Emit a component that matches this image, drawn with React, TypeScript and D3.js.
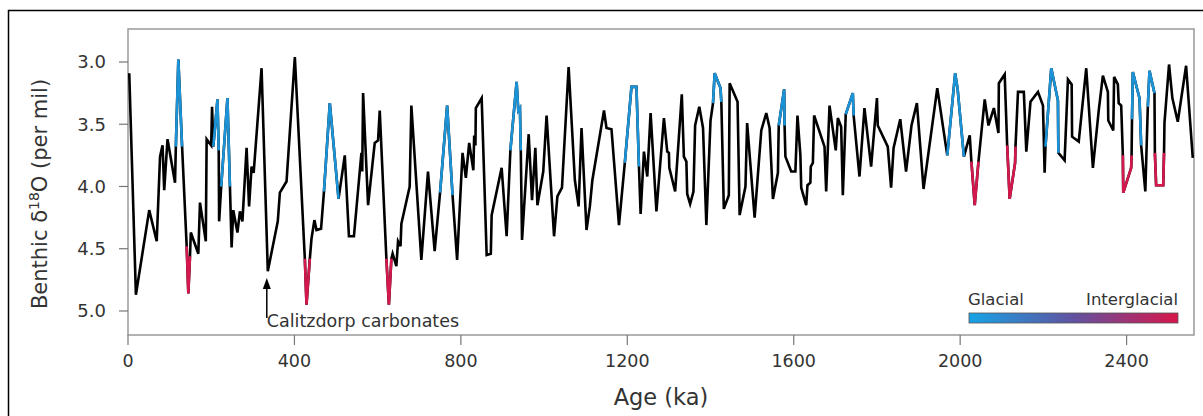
import React from "react";
import * as d3 from "d3";

// Age (ka) and benthic d18O (per mil)
const ages: number[] = [
  3, 19, 51, 69, 77, 83, 87, 95, 113, 115, 121, 130, 141, 145, 149, 151, 169, 173, 187, 189,
  200, 202, 205, 215, 218, 219, 224, 239, 245, 249, 253, 263, 269, 275, 285, 291, 297, 302, 321, 336,
  360, 365, 381, 401, 425, 429, 437, 441, 448, 453, 464, 471, 485, 506, 521, 531, 543, 561, 563, 565,
  577, 593, 601, 605, 621, 627, 633, 636, 645, 649, 655, 657, 677, 681, 705, 721, 737, 750, 767, 780,
  791, 804, 812, 820, 830, 832, 835, 836, 850, 862, 872, 874, 898, 910, 919, 934, 938, 942, 944, 947,
  963, 971, 979, 984, 998, 1006, 1024, 1032, 1043, 1059, 1074, 1083, 1090, 1102, 1110, 1116, 1144, 1150, 1162, 1180,
  1194, 1210, 1222, 1228, 1232, 1240, 1248, 1256, 1270, 1288, 1296, 1300, 1301, 1315, 1331, 1336, 1342, 1344, 1351, 1359,
  1363, 1373, 1382, 1390, 1400, 1406, 1410, 1424, 1426, 1432, 1444, 1446, 1465, 1470, 1484, 1488, 1506, 1522, 1534, 1542,
  1550, 1562, 1564, 1577, 1578, 1580, 1594, 1604, 1609, 1616, 1618, 1630, 1633, 1640, 1641, 1646, 1649, 1674, 1678, 1686,
  1701, 1706, 1714, 1718, 1725, 1742, 1744, 1758, 1770, 1786, 1800, 1802, 1826, 1834, 1840, 1856, 1870, 1883, 1896, 1912,
  1945, 1969, 1988, 1994, 2009, 2023, 2027, 2035, 2044, 2059, 2068, 2081, 2092, 2093, 2107, 2113, 2119, 2132, 2133, 2139,
  2153, 2159, 2169, 2187, 2199, 2203, 2205, 2219, 2235, 2236, 2251, 2259, 2268, 2269, 2285, 2303, 2319, 2333, 2343, 2355,
  2356, 2368, 2370, 2379, 2381, 2387, 2391, 2392, 2411, 2412, 2413, 2415, 2431, 2435, 2445, 2451, 2455, 2467, 2468, 2471,
  2488, 2490, 2491, 2502, 2510, 2523, 2543, 2559,
];
const d18O: number[] = [
  3.09, 4.87, 4.19, 4.44, 3.76, 3.67, 4.03, 3.62, 3.97, 3.68, 2.98, 3.68, 4.48, 4.86, 4.56, 4.37, 4.54, 4.13, 4.44, 3.62,
  3.67, 3.36, 3.68, 3.30, 3.71, 4.28, 4.00, 3.29, 4.00, 4.49, 4.19, 4.37, 4.20, 4.28, 3.69, 4.16, 3.84, 3.89, 3.05, 4.68,
  4.28, 4.05, 3.96, 2.96, 4.58, 4.95, 4.58, 4.42, 4.27, 4.35, 4.34, 4.04, 3.33, 4.10, 3.75, 4.40, 4.40, 3.73, 3.88, 3.25,
  4.15, 3.65, 3.63, 3.39, 4.58, 4.95, 4.58, 4.54, 4.64, 4.44, 4.48, 4.30, 4.00, 3.35, 4.59, 3.88, 4.52, 4.05, 3.35, 4.07,
  4.59, 3.73, 3.93, 3.65, 3.87, 3.59, 3.67, 3.37, 3.29, 4.55, 4.54, 4.23, 3.85, 4.40, 3.71, 3.16, 3.39, 3.37, 3.71, 4.43,
  3.58, 4.11, 3.69, 4.15, 3.88, 3.43, 4.40, 4.08, 4.01, 3.04, 3.95, 4.16, 3.53, 4.35, 4.16, 3.95, 3.39, 3.53, 3.54, 4.31,
  3.81, 3.20, 3.20, 3.84, 4.22, 3.72, 3.92, 3.41, 4.20, 3.45, 3.72, 3.73, 3.85, 4.04, 3.26, 3.76, 3.80, 4.06, 4.14, 4.04,
  3.51, 3.36, 3.53, 4.31, 3.47, 3.33, 3.09, 3.21, 3.32, 4.18, 4.07, 3.17, 3.32, 4.23, 4.00, 3.49, 4.25, 3.55, 3.41, 3.53,
  4.10, 3.89, 3.51, 3.22, 3.51, 3.76, 3.88, 3.88, 3.43, 3.75, 4.01, 4.15, 3.99, 3.97, 3.84, 3.81, 3.43, 3.68, 4.04, 3.35,
  3.71, 3.45, 3.52, 4.07, 3.42, 3.25, 3.43, 3.92, 3.37, 3.84, 3.29, 3.51, 3.68, 4.01, 3.69, 3.46, 3.88, 3.51, 3.33, 4.02,
  3.21, 3.75, 3.09, 3.22, 3.76, 3.59, 3.80, 4.15, 3.80, 3.30, 3.51, 3.37, 3.57, 3.17, 3.10, 3.67, 4.10, 3.81, 3.68, 3.24,
  3.24, 3.72, 3.32, 3.24, 3.35, 3.89, 3.68, 3.05, 3.31, 3.73, 3.79, 3.14, 3.18, 3.60, 3.64, 3.05, 3.85, 3.39, 3.11, 3.24,
  3.47, 3.55, 3.12, 3.18, 3.33, 3.35, 3.75, 4.05, 3.85, 3.75, 3.46, 3.08, 3.29, 3.67, 4.04, 3.36, 3.07, 3.25, 3.73, 3.99,
  3.99, 3.73, 3.49, 3.02, 3.29, 3.48, 3.03, 3.77,
];

// Age ranges drawn in glacial (blue) and interglacial (red) colours
const glacialRanges: [number, number][] = [
  [115, 130], [205, 218], [224, 245], [471, 506], [750, 780], [919, 944], [1194, 1228],
  [1406, 1426], [1564, 1578], [1725, 1744], [1969, 2009], [2205, 2236], [2413, 2435], [2451, 2467],
];
const interglacialRanges: [number, number][] = [
  [141, 149], [425, 437], [621, 633], [2027, 2044], [2113, 2133], [2391, 2412], [2468, 2490],
];

const xTicks = [0, 400, 800, 1200, 1600, 2000, 2400];
const yTicks = [3.0, 3.5, 4.0, 4.5, 5.0];

const GLACIAL = "#1b93d6";
const INTERGLACIAL = "#d4184d";
const FONT = "'DejaVu Sans', Verdana, sans-serif";
const TEXT = "#333";

export default function App() {
  const W = 1203, H = 416;
  const L = 128, R = 1194, T = 29, B = 335;
  const x = d3.scaleLinear().domain([0, 2562]).range([L, R]);
  const y = d3.scaleLinear().domain([2.735, 5.193]).range([T, B]);
  const pts = ages.map((a, i) => ({ a, v: d18O[i] }));
  const line = d3.line<{ a: number; v: number }>().x((d) => x(d.a)).y((d) => y(d.v));
  const seg = (r: [number, number]) => line(pts.filter((p) => p.a >= r[0] && p.a <= r[1])) || "";

  const arrowAge = 336;
  const ax = x(arrowAge) - 1;

  return (
    <svg width={W} height={H} style={{ position: "absolute", left: 0, top: 0, background: "#fff" }}>
      <defs>
        <linearGradient id="gi" x1="0" x2="1" y1="0" y2="0">
          <stop offset="0" stopColor="#17a3e6" />
          <stop offset="0.5" stopColor="#6152a0" />
          <stop offset="1" stopColor="#d8164a" />
        </linearGradient>
      </defs>
      <rect x={8.5} y={10.5} width={1210} height={420} fill="none" stroke="#000" strokeWidth={1.5} />
      {/* plot frame */}
      <rect x={L} y={T} width={R - L} height={B - T} fill="none" stroke="#999" strokeWidth={1.5} />
      {/* y axis */}
      {yTicks.map((t) => (
        <g key={t}>
          <line x1={L - 9} x2={L} y1={y(t)} y2={y(t)} stroke="#777" strokeWidth={1.2} />
          <text x={L - 22} y={y(t)} dy="0.36em" textAnchor="end" fontFamily={FONT} fontSize={18} fill={TEXT}>
            {t.toFixed(1)}
          </text>
        </g>
      ))}
      <text
        transform={`translate(47,${(T + B) / 2 + 12}) rotate(-90)`}
        textAnchor="middle"
        fontFamily={FONT}
        fontSize={21}
        fill={TEXT}
      >
        Benthic δ<tspan fontSize={14} dy={-8}>18</tspan><tspan dy={8}>O (per mil)</tspan>
      </text>
      {/* x axis */}
      {xTicks.map((t) => (
        <g key={t}>
          <line x1={x(t)} x2={x(t)} y1={B} y2={B + 10} stroke="#777" strokeWidth={1.2} />
          <text x={x(t)} y={B + 32} textAnchor="middle" fontFamily={FONT} fontSize={17.5} fill={TEXT}>
            {t}
          </text>
        </g>
      ))}
      <text x={(L + R) / 2} y={405} textAnchor="middle" fontFamily={FONT} fontSize={22.5} fill={TEXT}>
        Age (ka)
      </text>
      {/* data */}
      <path d={line(pts) || ""} fill="none" stroke="#000" strokeWidth={2.6} strokeLinejoin="miter" />
      {glacialRanges.map((r, i) => (
        <path key={"g" + i} d={seg(r)} fill="none" stroke={GLACIAL} strokeWidth={2.6} />
      ))}
      {interglacialRanges.map((r, i) => (
        <path key={"i" + i} d={seg(r)} fill="none" stroke={INTERGLACIAL} strokeWidth={2.6} />
      ))}
      {/* annotation */}
      <line x1={ax} x2={ax} y1={318} y2={286} stroke="#000" strokeWidth={1.5} />
      <path d={`M${ax},${278} L${ax - 4},${289} L${ax + 4},${289} Z`} fill="#000" />
      <text x={ax} y={327} fontFamily={FONT} fontSize={17.5} fill={TEXT}>
        Calitzdorp carbonates
      </text>
      {/* legend */}
      <text x={968} y={305} fontFamily={FONT} fontSize={16.5} fill={TEXT}>Glacial</text>
      <text x={1178} y={305} textAnchor="end" fontFamily={FONT} fontSize={16.5} fill={TEXT}>Interglacial</text>
      <rect x={969} y={313} width={209} height={10} fill="url(#gi)" stroke="#555" strokeWidth={0.8} />
    </svg>
  );
}
